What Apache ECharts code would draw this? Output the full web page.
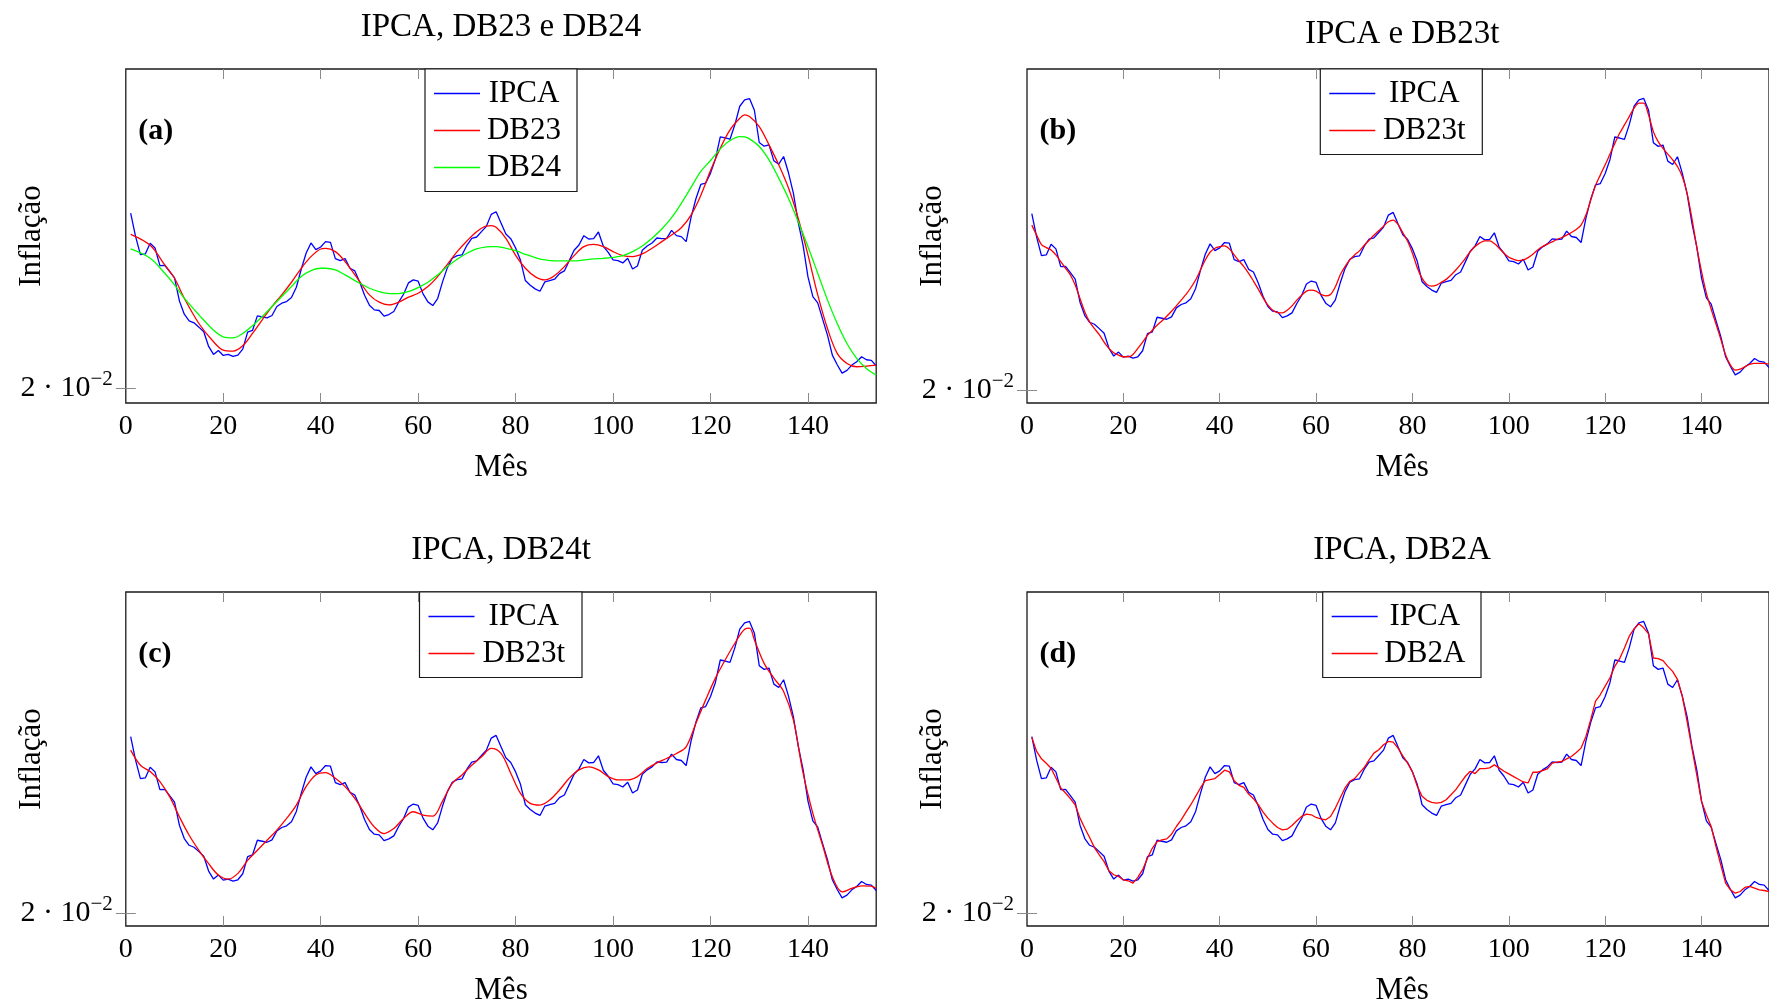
<!DOCTYPE html>
<html><head><meta charset="utf-8">
<script src="https://cdn.jsdelivr.net/npm/echarts@6/dist/echarts.min.js"></script>
<style>html,body{margin:0;padding:0;background:#fff;}#c{width:1769px;height:1005px;}</style>
</head><body><div id="c"></div>
<script>
// ---------------- DATA ----------------
// IPCA (12-month inflation, fraction), months 1..154
const ipca = [0.0727,0.0657,0.0602,0.0604,0.0636,0.0622,0.0569,0.0570,0.0551,0.0532,
0.0463,0.0423,0.0403,0.0397,0.0384,0.0370,0.0326,0.0302,0.0314,0.0299,
0.0302,0.0296,0.0300,0.0318,0.0369,0.0374,0.0418,0.0415,0.0412,0.0419,
0.0446,0.0456,0.0461,0.0473,0.0504,0.0558,0.0606,0.0637,0.0617,0.0625,
0.0641,0.0639,0.0590,0.0584,0.0590,0.0561,0.0553,0.0520,0.0480,0.0450,
0.0436,0.0434,0.0417,0.0422,0.0431,0.0459,0.0483,0.0517,0.0526,0.0522,
0.0484,0.0460,0.0449,0.0470,0.0520,0.0563,0.0591,0.0599,0.0601,0.0630,
0.0651,0.0655,0.0671,0.0687,0.0723,0.0731,0.0697,0.0664,0.0650,0.0622,
0.0585,0.0524,0.0510,0.0499,0.0492,0.0520,0.0524,0.0528,0.0545,0.0553,
0.0584,0.0615,0.0631,0.0659,0.0649,0.0650,0.0670,0.0627,0.0609,0.0586,
0.0584,0.0577,0.0591,0.0559,0.0568,0.0615,0.0628,0.0637,0.0652,0.0650,
0.0651,0.0675,0.0659,0.0656,0.0641,0.0714,0.0770,0.0813,0.0817,0.0847,
0.0889,0.0956,0.0953,0.0949,0.0993,0.1048,0.1067,0.1071,0.1036,0.0939,
0.0928,0.0932,0.0884,0.0874,0.0897,0.0848,0.0787,0.0699,0.0629,0.0535,
0.0476,0.0457,0.0408,0.0360,0.0300,0.0271,0.0246,0.0254,0.0270,0.0280,
0.0295,0.0286,0.0284,0.0268];

// DB23 and DB24 (panel a), read at these months
const smoothMonths = [1,5,8,10,12,15,18,20,22,24,26,28,30,32,34,36,38,40,41,43,
45,48,50,52,54,56,58,60,62,64,66,68,70,72,74,75,76,78,80,82,
84,86,88,90,92,94,96,98,100,102,104,106,108,110,112,114,116,118,120,122,
124,126,127,128,130,132,134,136,138,140,142,144,146,148,150,152,154];
const db23 = [0.0663,0.0630,0.0571,0.0531,0.0471,0.0395,0.0340,0.0315,0.0312,0.0328,
0.0365,0.0406,0.0446,0.0481,0.0519,0.0561,0.0596,0.0619,0.0621,0.0611,
0.0581,0.0521,0.0481,0.0459,0.0451,0.0459,0.0474,0.0486,0.0506,0.0536,
0.0573,0.0611,0.0643,0.0671,0.0688,0.0689,0.0684,0.0651,0.0600,0.0561,
0.0536,0.0526,0.0539,0.0566,0.0599,0.0626,0.0633,0.0626,0.0611,0.0599,
0.0596,0.0604,0.0621,0.0641,0.0661,0.0683,0.0721,0.0780,0.0855,0.0922,
0.0977,0.1012,0.1022,0.1017,0.0987,0.0932,0.0872,0.0802,0.0711,0.0601,
0.0481,0.0380,0.0305,0.0275,0.0265,0.0267,0.0270];
const db24 = [0.0619,0.0591,0.0546,0.0511,0.0471,0.0421,0.0375,0.0355,0.0352,0.0365,
0.0388,0.0416,0.0446,0.0476,0.0506,0.0536,0.0554,0.0561,0.0561,0.0556,
0.0541,0.0516,0.0501,0.0491,0.0485,0.0485,0.0491,0.0503,0.0519,0.0541,
0.0566,0.0588,0.0606,0.0619,0.0625,0.0626,0.0626,0.0621,0.0614,0.0603,
0.0593,0.0586,0.0583,0.0583,0.0583,0.0586,0.0589,0.0591,0.0594,0.0599,
0.0611,0.0628,0.0651,0.0679,0.0713,0.0756,0.0804,0.0852,0.0885,0.0920,
0.0945,0.0957,0.0956,0.0950,0.0927,0.0887,0.0832,0.0771,0.0701,0.0626,
0.0546,0.0466,0.0395,0.0335,0.0290,0.0260,0.0240];

// DB23t (panel b), months 1..154
const db23t = [0.0693,0.0663,0.0635,0.0626,0.0619,0.0604,0.0584,0.0564,0.0544,0.0514,
0.0474,0.0434,0.0404,0.0384,0.0366,0.0344,0.0325,0.0312,0.0305,0.0300,
0.0300,0.0307,0.0325,0.0344,0.0364,0.0379,0.0394,0.0407,0.0421,0.0436,
0.0452,0.0469,0.0486,0.0506,0.0529,0.0559,0.0589,0.0612,0.0624,0.0629,
0.0631,0.0622,0.0604,0.0586,0.0569,0.0549,0.0526,0.0502,0.0476,0.0454,
0.0439,0.0432,0.0431,0.0439,0.0452,0.0469,0.0484,0.0496,0.0499,0.0496,
0.0486,0.0482,0.0486,0.0509,0.0544,0.0569,0.0589,0.0604,0.0616,0.0633,
0.0648,0.0663,0.0676,0.0690,0.0703,0.0708,0.0695,0.0670,0.0645,0.0609,
0.0566,0.0534,0.0516,0.0511,0.0514,0.0522,0.0531,0.0544,0.0559,0.0576,
0.0594,0.0614,0.0629,0.0640,0.0646,0.0646,0.0638,0.0624,0.0609,0.0597,
0.0591,0.0587,0.0589,0.0596,0.0606,0.0619,0.0629,0.0636,0.0643,0.0650,
0.0656,0.0663,0.0671,0.0680,0.0693,0.0723,0.0768,0.0811,0.0843,0.0873,
0.0905,0.0937,0.0967,0.0992,0.1017,0.1042,0.1057,0.1057,0.1022,0.0972,
0.0942,0.0922,0.0905,0.0888,0.0868,0.0838,0.0788,0.0713,0.0628,0.0554,
0.0490,0.0442,0.0398,0.0352,0.0305,0.0275,0.0260,0.0263,0.0270,0.0277,
0.0280,0.0280,0.0280,0.0278];

// DB24t (panel c), read at these months
const db24tMonths = [1,3,5,7,9,11,13,15,17,19,21,23,25,27,29,31,33,35,37,39,
41,43,45,47,49,51,53,55,57,59,61,63,65,67,69,71,73,75,77,79,
81,83,85,87,89,91,93,95,97,99,101,103,105,107,109,111,113,115,117,119,
121,123,125,127,128,129,131,133,135,137,139,141,143,145,147,149,151,153,154];
const db24t = [0.0687,0.0642,0.0623,0.0593,0.0548,0.0488,0.0433,0.0388,0.0348,0.0314,
0.0302,0.0319,0.0358,0.0388,0.0418,0.0448,0.0483,0.0523,0.0578,0.0613,
0.0620,0.0603,0.0578,0.0543,0.0498,0.0458,0.0438,0.0453,0.0483,0.0503,
0.0493,0.0490,0.0535,0.0588,0.0613,0.0642,0.0667,0.0692,0.0677,0.0618,
0.0558,0.0528,0.0523,0.0538,0.0568,0.0603,0.0628,0.0637,0.0628,0.0608,
0.0598,0.0598,0.0608,0.0632,0.0649,0.0662,0.0677,0.0697,0.0767,0.0837,
0.0902,0.0956,0.1006,0.1048,0.1051,0.1016,0.0946,0.0902,0.0862,0.0777,
0.0618,0.0498,0.0403,0.0309,0.0264,0.0274,0.0282,0.0281,0.0274];

// DB2A (panel d), months 1..154
const db2a = [0.0725,0.0683,0.0661,0.0648,0.0633,0.0604,0.0574,0.0559,0.0542,0.0524,
0.0484,0.0454,0.0426,0.0396,0.0374,0.0354,0.0327,0.0315,0.0310,0.0300,
0.0297,0.0290,0.0307,0.0330,0.0364,0.0394,0.0414,0.0419,0.0422,0.0436,
0.0459,0.0479,0.0502,0.0524,0.0549,0.0574,0.0596,0.0599,0.0602,0.0614,
0.0627,0.0622,0.0596,0.0582,0.0576,0.0556,0.0542,0.0524,0.0502,0.0484,
0.0469,0.0456,0.0449,0.0451,0.0462,0.0476,0.0489,0.0496,0.0494,0.0486,
0.0482,0.0479,0.0489,0.0514,0.0544,0.0574,0.0594,0.0602,0.0619,0.0635,
0.0658,0.0678,0.0688,0.0703,0.0713,0.0711,0.0693,0.0670,0.0648,0.0622,
0.0579,0.0549,0.0537,0.0531,0.0529,0.0531,0.0539,0.0554,0.0569,0.0589,
0.0609,0.0624,0.0617,0.0632,0.0632,0.0634,0.0643,0.0634,0.0624,0.0616,
0.0608,0.0600,0.0592,0.0589,0.0621,0.0621,0.0626,0.0631,0.0648,0.0651,
0.0653,0.0661,0.0668,0.0680,0.0693,0.0728,0.0778,0.0833,0.0853,0.0878,
0.0903,0.0937,0.0960,0.0992,0.1027,0.1049,0.1064,0.1052,0.1034,0.0962,
0.0960,0.0954,0.0937,0.0922,0.0898,0.0848,0.0773,0.0693,0.0614,0.0534,
0.0494,0.0459,0.0399,0.0344,0.0290,0.0270,0.0260,0.0265,0.0277,0.0280,
0.0275,0.0270,0.0268,0.0265];

const xLabelValues = [0,20,40,60,80,100,120,140];
const xTickValues = [20,40,60,80,100,120,140];
const yTickValues = [0.02];
const yTickText = ['2 · 10', '−2'];
const titles = ['IPCA, DB23 e DB24', 'IPCA e DB23t', 'IPCA, DB24t', 'IPCA, DB2A'];
const tags = ['(a)', '(b)', '(c)', '(d)'];
const xName = 'Mês';
const yName = 'Inflação';

// ---------------- LAYOUT ----------------
const FONT = "'Liberation Serif','Times New Roman',serif";
const months = ipca.map((_, i) => i + 1);
const pairs = (xs, ys) => xs.map((x, i) => [x, ys[i]]);

const panels = [
  {left:125.8, top:69, ymin:0.0156, ymax:0.1160, titleY:27.3, legLeft:425, legW:78,
   series:[['IPCA', pairs(months, ipca), '#0000ff', false],
           ['DB23', pairs(smoothMonths, db23), '#ff0000', 0.35],
           ['DB24', pairs(smoothMonths, db24), '#00ff00', 0.35]]},
  {left:1027, top:69, ymin:0.0162, ymax:0.1159, titleY:34, legLeft:1320.3, legW:88,
   series:[['IPCA', pairs(months, ipca), '#0000ff', false],
           ['DB23t', pairs(months, db23t), '#ff0000', 0.3]]},
  {left:125.8, top:592, ymin:0.0162, ymax:0.1159, titleY:550.5, legLeft:419.5, legW:88.5,
   series:[['IPCA', pairs(months, ipca), '#0000ff', false],
           ['DB23t', pairs(db24tMonths, db24t), '#ff0000', 0.35]]},
  {left:1027, top:592, ymin:0.0162, ymax:0.1159, titleY:550.5, legLeft:1322.7, legW:84.3,
   series:[['IPCA', pairs(months, ipca), '#0000ff', false],
           ['DB2A', pairs(months, db2a), '#ff0000', false]]}
];
const PW = 750.4, PH = 334;

const grid = [], xAxis = [], yAxis = [], series = [], legend = [], graphic = [];
const tickStyle = {color:'#8a8a8a', width:1};
panels.forEach((p, i) => {
  grid.push({left:p.left, top:p.top, width:PW, height:PH, show:true,
             borderColor:'#1a1a1a', borderWidth:1.3, backgroundColor:'transparent', containLabel:false});
  ['bottom','top'].forEach((pos, k) => {
    xAxis.push({gridIndex:i, type:'value', position:pos, min:0, max:154,
      axisLine:{show:false}, splitLine:{show:false},
      axisTick:{show:true, inside:true, length:10, customValues:xTickValues, lineStyle:tickStyle},
      axisLabel:{show:k===0, customValues:xLabelValues, fontSize:28, fontFamily:FONT, color:'#000', margin:10}});
  });
  ['left','right'].forEach((pos, k) => {
    yAxis.push({gridIndex:i, type:'value', position:pos, min:p.ymin, max:p.ymax,
      axisLine:{show:false}, splitLine:{show:false},
      axisTick:{show:true, inside:true, length:10, customValues:yTickValues, lineStyle:tickStyle},
      axisLabel:{show:k===0, customValues:yTickValues, margin:13,
        formatter:() => '{m|' + yTickText[0] + '}{s|' + yTickText[1] + '}',
        rich:{m:{fontSize:30, fontFamily:FONT, color:'#000', lineHeight:38},
              s:{fontSize:21, fontFamily:FONT, color:'#000', lineHeight:21, verticalAlign:'top'}}}});
  });
  p.series.forEach(([name, data, color, sm]) => {
    series.push({type:'line', name, data, xAxisIndex:2*i, yAxisIndex:2*i,
      symbol:'none', showSymbol:false, smooth:sm, clip:true,
      lineStyle:{color, width:1.3}, itemStyle:{color}, emphasis:{disabled:true}, silent:true});
  });
  legend.push({show:true, orient:'vertical', left:p.legLeft, top:p.top, selectedMode:false,
    data:p.series.map(s => ({name:s[0], icon:'rect', itemStyle:{color:s[2]}})),
    itemWidth:46, itemHeight:1.4, itemGap:6,
    padding:[9, 14, 8.5, 9], borderColor:'#1a1a1a', borderWidth:1.2, backgroundColor:'#fff',
    formatter:n => '{t|' + n + '}',
    textStyle:{fontSize:31, fontFamily:FONT, color:'#000', lineHeight:31,
      rich:{t:{width:p.legW, align:'center', fontSize:31, fontFamily:FONT, color:'#000', lineHeight:31}}}});
  const cx = p.left + PW / 2;
  graphic.push({type:'text', x:cx, y:p.titleY, silent:true,
    style:{text:titles[i], fontSize:33, fontFamily:FONT, fill:'#000', align:'center', verticalAlign:'middle'}});
  graphic.push({type:'text', x:cx, y:p.top + PH + 65, silent:true,
    style:{text:xName, fontSize:31, fontFamily:FONT, fill:'#000', align:'center', verticalAlign:'middle'}});
  graphic.push({type:'text', x:p.left - 94, y:p.top + PH / 2, rotation:Math.PI / 2, silent:true,
    style:{text:yName, fontSize:31, fontFamily:FONT, fill:'#000', align:'center', verticalAlign:'middle'}});
  graphic.push({type:'text', x:p.left + 12.5, y:p.top + 62, silent:true, z:100,
    style:{text:tags[i], fontSize:30, fontWeight:'bold', fontFamily:FONT, fill:'#000', align:'left', verticalAlign:'middle'}});
});

const chart = echarts.init(document.getElementById('c'), null, {renderer:'canvas'});
chart.setOption({animation:false, backgroundColor:'#fff', grid, xAxis, yAxis, series, legend, graphic});
</script>
</body></html>
